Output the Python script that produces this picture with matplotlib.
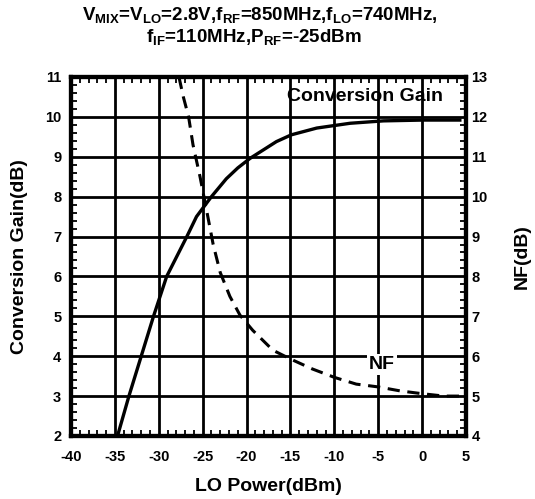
import matplotlib.pyplot as plt
from matplotlib.ticker import MultipleLocator

plt.rcParams['font.family'] = ['Liberation Sans', 'DejaVu Sans']
plt.rcParams['font.weight'] = 'bold'
plt.rcParams['axes.unicode_minus'] = False
plt.rcParams['mathtext.fontset'] = 'custom'
plt.rcParams['mathtext.rm'] = 'Liberation Sans:bold'
plt.rcParams['mathtext.it'] = 'Liberation Sans:bold'
plt.rcParams['mathtext.bf'] = 'Liberation Sans:bold'
plt.rcParams['mathtext.default'] = 'rm'

# LO power (dBm) vs conversion gain (dB)
gain_lo = [-34.7, -33.4, -32.0, -30.6, -29.1, -26.8, -25.7, -24.0, -22.3, -21.0, -19.6,
           -16.6, -14.9, -12.0, -8.2, -4.4, 0.1, 4.3]
gain_db = [2.0, 3.0, 4.0, 5.0, 6.0, 7.0, 7.5, 8.0, 8.45, 8.72, 8.96,
           9.38, 9.55, 9.72, 9.84, 9.9, 9.92, 9.92]

# LO power (dBm) vs noise figure (dB)
nf_lo = [-27.7, -27.2, -26.6, -26.1, -25.3, -24.5, -23.8, -23.0, -21.9, -20.75,
         -19.3, -17.0, -15.0, -12.5, -10.0, -7.5, -5.0, -2.5, 0.0, 2.5, 5.0]
nf_db = [13.0, 12.5, 12.0, 11.3, 10.5, 9.6, 8.8, 8.1, 7.5, 7.03,
         6.65, 6.15, 5.93, 5.68, 5.47, 5.3, 5.23, 5.13, 5.06, 5.0, 5.0]

fig = plt.figure(figsize=(5.35, 4.99), dpi=100)
ax = fig.add_axes([0.1327, 0.1263, 0.7383, 0.7194])
ax2 = ax.twinx()

ax.plot(gain_lo, gain_db, color='black', lw=2.4, zorder=3)
ax2.plot(nf_lo, nf_db, color='black', lw=2.2, dashes=(4, 2.5))

ax.set_xlim(-40, 5)
ax.set_ylim(2, 11)
ax2.set_ylim(4, 13)

ax.xaxis.set_major_locator(MultipleLocator(5))
ax.xaxis.set_minor_locator(MultipleLocator(1))
ax.yaxis.set_major_locator(MultipleLocator(1))
ax.yaxis.set_minor_locator(MultipleLocator(0.2))
ax2.yaxis.set_major_locator(MultipleLocator(1))
ax2.yaxis.set_minor_locator(MultipleLocator(0.2))

ax.grid(True, which='major', color='black', lw=2.0)
ax.tick_params(axis='x', which='major', length=0, labelsize=10.5, pad=10)
ax.tick_params(axis='y', which='major', length=0, labelsize=10.5, pad=7)
ax.tick_params(which='minor', direction='in', length=4, width=1.3, top=True)
ax2.tick_params(which='major', length=0, labelsize=10.5, pad=4)
ax2.tick_params(which='minor', direction='in', length=4, width=1.3)

for a in (ax, ax2):
    for s in a.spines.values():
        s.set_linewidth(3)

ax.set_xlabel('LO Power(dBm)', fontsize=14, fontweight='bold', labelpad=10)
ax.set_ylabel('Conversion Gain(dB)', fontsize=14, fontweight='bold', labelpad=12)
ax2.set_ylabel('NF(dB)', fontsize=14, fontweight='bold', labelpad=19)

ax.text(-6.5, 10.5, 'Conversion Gain', fontsize=14, fontweight='bold', ha='center', va='center')
ax2.text(-4.6, 5.8, 'NF', fontsize=14, fontweight='bold', ha='center', va='center',
         bbox=dict(facecolor='white', edgecolor='none', pad=1.5))

fig.text(0.486, 1 - 20 / 499, 'V$_{MIX}$=V$_{LO}$=2.8V,f$_{RF}$=850MHz,f$_{LO}$=740MHz,',
         fontsize=13.5, fontweight='bold', ha='center', va='baseline')
fig.text(0.475, 1 - 42 / 499, 'f$_{IF}$=110MHz,P$_{RF}$=-25dBm',
         fontsize=13.5, fontweight='bold', ha='center', va='baseline')

fig.savefig('out.png', dpi=100)
